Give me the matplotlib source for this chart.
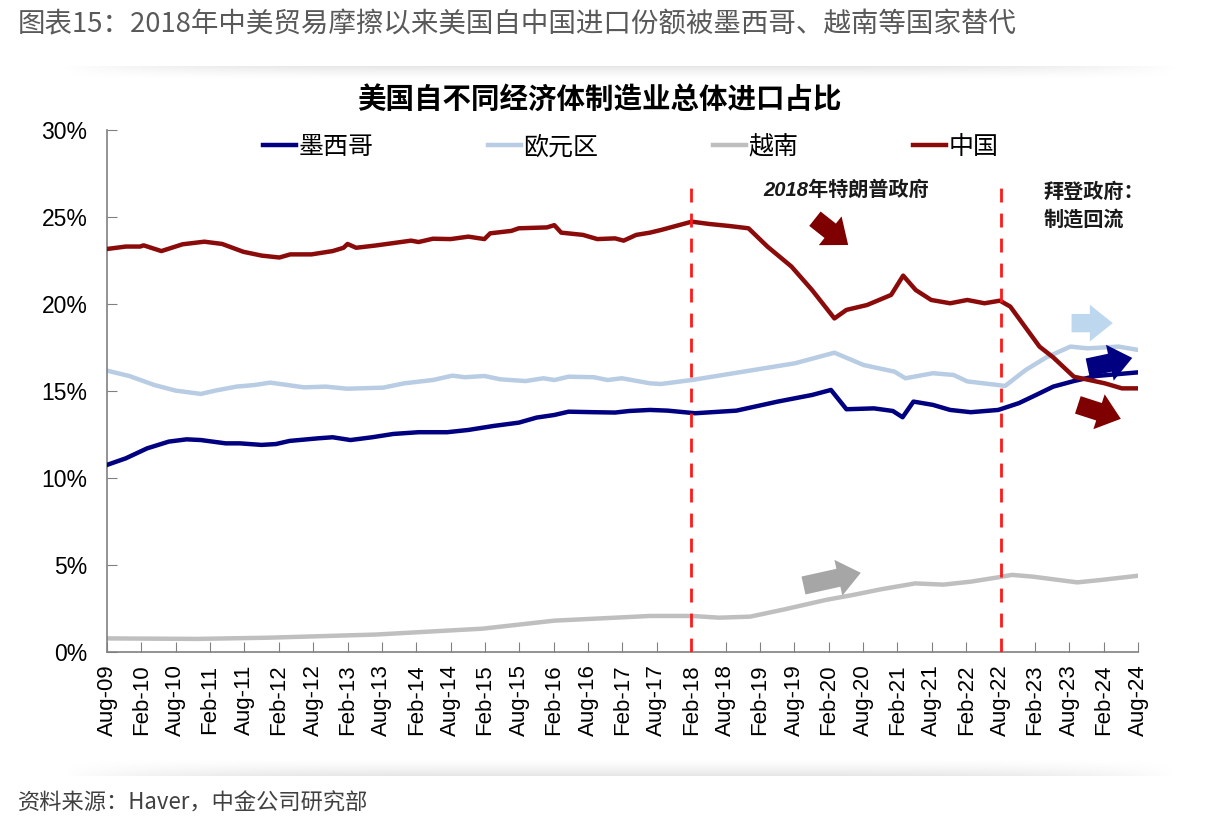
import matplotlib
matplotlib.use("Agg")
import matplotlib.pyplot as plt
import numpy as np
from matplotlib.ticker import FuncFormatter

plt.rcParams['font.family'] = ['Liberation Sans', 'Noto Sans CJK SC']

# month index: 0 = Aug-09 ... 180 = Aug-24
china_m = [0, 3.3, 5.8, 6.4, 9.5, 13.2, 17, 20.1, 23.8, 27, 30.1, 32, 35.7, 39.4, 41.3, 42, 43.5,
           46.9, 50, 53.1, 54.4, 56.9, 60, 63.1, 65.9, 66.9, 70.6, 71.9, 76.8, 78.1, 79.3, 83.1,
           85.6, 88.7, 90.2, 92.4, 94.8, 96.7, 102.1, 105.1, 108.7, 112, 115.3, 119.5, 123.1,
           127, 129.1, 132.7, 136.9, 139, 141.2, 143.9, 147.2, 150.2, 153.2, 155.9, 157.7,
           162.8, 165.2, 168.8, 174.2, 177.2, 180]
china_v = [23.16, 23.3, 23.3, 23.37, 23.04, 23.43, 23.58, 23.45, 23.0, 22.78, 22.67, 22.85, 22.85,
           23.04, 23.23, 23.45, 23.23, 23.36, 23.5, 23.64, 23.56, 23.75, 23.73, 23.87, 23.73,
           24.06, 24.2, 24.35, 24.4, 24.53, 24.1, 23.97, 23.73, 23.77, 23.64, 23.97, 24.1,
           24.25, 24.73, 24.6, 24.48, 24.35, 23.3, 22.15, 20.8, 19.17, 19.66, 19.94, 20.52,
           21.63, 20.8, 20.23, 20.04, 20.23, 20.04, 20.19, 19.85, 17.55, 16.93, 15.82, 15.44,
           15.15, 15.15]

mexico_m = [0, 3.3, 7, 10.8, 13.9, 16.4, 20.7, 23.2, 27, 29.5, 31.9, 36.9, 39.4, 42.5, 46.3, 50,
            54.4, 59.4, 63.1, 67.5, 71.9, 75, 78.1, 80.6, 85, 88.7, 91.2, 94.8, 97.9, 102.7,
            109.9, 117.1, 123.1, 126.4, 129.1, 133.9, 137.2, 138.9, 140.8, 144.2, 147.2, 150.8,
            155.6, 159.2, 162.2, 165.2, 168.8, 172.7, 180]
mexico_v = [10.75, 11.13, 11.7, 12.09, 12.22, 12.18, 11.99, 11.99, 11.9, 11.95, 12.13, 12.28,
            12.34, 12.18, 12.34, 12.53, 12.63, 12.63, 12.76, 12.99, 13.18, 13.47, 13.62, 13.81,
            13.78, 13.76, 13.85, 13.91, 13.87, 13.72, 13.87, 14.39, 14.77, 15.06, 13.95, 14.0,
            13.85, 13.49, 14.39, 14.2, 13.91, 13.78, 13.91, 14.3, 14.77, 15.25, 15.57, 15.86,
            16.07]

euro_m = [0, 3.9, 8.3, 12, 16.4, 18.9, 22.6, 25.7, 28.5, 34.4, 38.2, 41.9, 48.2, 51.9, 56.9,
          60.3, 62.5, 65.9, 68.7, 73.1, 76.2, 78.1, 80.6, 85, 87.4, 89.9, 94.8, 96.7, 102.1,
          111.1, 120.1, 127, 132.1, 137.5, 139.4, 144.2, 147.8, 150.2, 155.6, 156.8, 160.4,
          164, 168.2, 171.2, 176.6, 180]
euro_v = [16.17, 15.86, 15.34, 15.02, 14.83, 15.02, 15.25, 15.34, 15.48, 15.21, 15.25, 15.13,
          15.19, 15.44, 15.63, 15.88, 15.79, 15.86, 15.67, 15.57, 15.73, 15.63, 15.82, 15.79,
          15.63, 15.73, 15.44, 15.4, 15.63, 16.11, 16.59, 17.2, 16.49, 16.11, 15.73, 16.02,
          15.92, 15.55, 15.34, 15.29, 16.21, 16.93, 17.55, 17.45, 17.55, 17.36]

vietnam_m = [0, 15.7, 28.2, 46.9, 65.6, 78.1, 90.6, 94.8, 102.1, 106.9, 112.3, 118.3, 125.5,
             130.3, 135.1, 141.1, 146, 150.8, 155.6, 158, 161.6, 169.4, 173.6, 180]
vietnam_v = [0.78, 0.75, 0.82, 1.0, 1.34, 1.8, 2.0, 2.07, 2.07, 1.97, 2.03, 2.45, 2.99, 3.28,
             3.6, 3.94, 3.87, 4.04, 4.29, 4.43, 4.33, 4.0, 4.14, 4.38]

tick_labels = ['Aug-09', 'Feb-10', 'Aug-10', 'Feb-11', 'Aug-11', 'Feb-12', 'Aug-12', 'Feb-13',
               'Aug-13', 'Feb-14', 'Aug-14', 'Feb-15', 'Aug-15', 'Feb-16', 'Aug-16', 'Feb-17',
               'Aug-17', 'Feb-18', 'Aug-18', 'Feb-19', 'Aug-19', 'Feb-20', 'Aug-20', 'Feb-21',
               'Aug-21', 'Feb-22', 'Aug-22', 'Feb-23', 'Aug-23', 'Feb-24', 'Aug-24']
event_months = [102, 156]   # Feb-18, Aug-22

fig = plt.figure(figsize=(12.14, 8.30), dpi=100)

# soft grey shadow bands around the chart panel
def shadow(rect, fade_down):
    sh = fig.add_axes(rect, zorder=-1)
    sh.axis('off')
    h, w = 20, 300
    yy = np.linspace(0, 1, h)[:, None]
    xx = np.linspace(-1, 1, w)[None, :]
    a = (yy if fade_down else yy[::-1]) ** 1.5 * (1 - np.abs(xx) ** 4)
    img = np.zeros((h, w, 4))
    img[..., :3] = 0.55
    img[..., 3] = a * 0.22
    sh.imshow(img, aspect='auto', extent=(0, 1, 0, 1), interpolation='bilinear')

shadow([0.05, 1 - 80 / 830, 0.92, 14 / 830], fade_down=False)
shadow([0.05, 1 - 776 / 830, 0.92, 18 / 830], fade_down=True)

ax = fig.add_axes([0.0881, 0.2145, 0.8493, 0.6289])

ax.plot(mexico_m, mexico_v, color='#000080', lw=3.2, label='墨西哥', zorder=3)
ax.plot(euro_m, euro_v, color='#B8CCE4', lw=3.2, label='欧元区', zorder=2)
ax.plot(vietnam_m, vietnam_v, color='#BFBFBF', lw=3.2, label='越南', zorder=2)
ax.plot(china_m, china_v, color='#8B0A0A', lw=3.2, label='中国', zorder=3)

for m in event_months:
    ax.plot([m, m], [0, 26.8], color='#FF1A1A', lw=2, ls=(0, (5, 4)), zorder=4)

def arrow(tail, tip, color):
    ax.annotate('', xy=tip, xytext=tail,
                arrowprops=dict(arrowstyle='simple,head_length=0.75,head_width=1.2,tail_width=0.6',
                                mutation_scale=22, color=color, shrinkA=0, shrinkB=0, lw=0),
                zorder=5)

arrow((123.6, 24.9), (129.4, 23.39), '#7F0000')
arrow((168.4, 18.9), (175.6, 18.9), '#BDD7EE')
arrow((171.2, 16.35), (179.0, 16.9), '#000080')
arrow((169.5, 14.2), (177.0, 13.4), '#7F0000')
arrow((121.6, 3.82), (131.6, 4.55), '#A6A6A6')

ax.text(129, 26.55, '2018年特朗普政府', fontsize=14.5, fontweight='bold', style='italic',
        ha='center', va='center', color='#1a1a1a')
ax.text(163.5, 26.4, '拜登政府：', fontsize=14.5, fontweight='bold', style='italic',
        ha='left', va='center', color='#1a1a1a')
ax.text(163.5, 24.85, '制造回流', fontsize=14.5, fontweight='bold', style='italic',
        ha='left', va='center', color='#1a1a1a')

ax.set_xlim(0, 180)
ax.set_ylim(0, 30)
ax.set_xticks(range(0, 181, 6))
ax.set_xticklabels(tick_labels, rotation=90, fontsize=16)
ax.set_yticks(range(0, 31, 5))
ax.yaxis.set_major_formatter(FuncFormatter(lambda v, p: f'{int(v)}%'))
ax.tick_params(axis='y', labelsize=16.5, direction='in', length=7, color='#808080', pad=14)
ax.tick_params(axis='x', direction='in', length=7, color='#808080', pad=9)
for s in ['top', 'right']:
    ax.spines[s].set_visible(False)
for s in ['left', 'bottom']:
    ax.spines[s].set_color('#808080')
    ax.spines[s].set_linewidth(1.2)

ax.legend(loc='center', bbox_to_anchor=(0.508, 0.967), ncol=4, frameon=False, fontsize=18,
          handlelength=1.3, handletextpad=0.1, columnspacing=4.6)

fig.text(0.494, 0.8795, '美国自不同经济体制造业总体进口占比', fontsize=20.5, fontweight='bold',
         ha='center', va='center')
fig.text(18 / 1214, 1 - 25 / 830, '图表15：2018年中美贸易摩擦以来美国自中国进口份额被墨西哥、越南等国家替代',
         fontsize=19.8, color='#595959', ha='left', va='center', family=['Noto Sans CJK SC'])
fig.text(18 / 1214, 1 - 803 / 830, '资料来源：Haver，中金公司研究部', fontsize=16, color='#404040',
         ha='left', va='center', family=['Noto Sans CJK SC'])

fig.savefig('out.png', dpi=100)
